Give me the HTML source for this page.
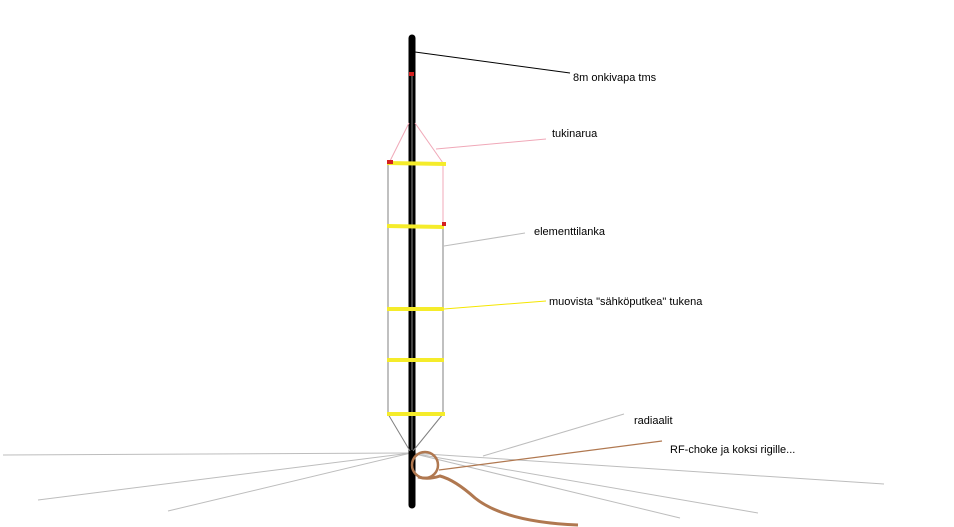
<!DOCTYPE html>
<html><head><meta charset="utf-8"><style>
html,body{margin:0;padding:0;background:#fff;width:954px;height:527px;overflow:hidden}
svg{display:block}
text{font-family:"Liberation Sans",sans-serif;font-size:11px;fill:#000}
</style></head><body>
<svg width="954" height="527" viewBox="0 0 954 527" xmlns="http://www.w3.org/2000/svg">
<!-- radials -->
<g stroke="#bdbdbd" stroke-width="1" fill="none">
<line x1="411" y1="453" x2="3" y2="455"/>
<line x1="411" y1="453" x2="38" y2="500"/>
<line x1="411" y1="453" x2="168" y2="511"/>
<line x1="411" y1="453" x2="884" y2="484"/>
<line x1="411" y1="453" x2="758" y2="513"/>
<line x1="411" y1="453" x2="680" y2="518"/>
<line x1="483" y1="456" x2="624" y2="414"/>
</g>
<!-- mast -->
<line x1="412" y1="38" x2="412" y2="505" stroke="#000" stroke-width="7" stroke-linecap="round"/>
<line x1="412" y1="74" x2="412" y2="450" stroke="#888" stroke-width="1"/>
<!-- pointer lines -->
<line x1="415" y1="52" x2="570" y2="73" stroke="#000" stroke-width="1"/>
<line x1="436" y1="149" x2="546" y2="139" stroke="#f0a8b8" stroke-width="1"/>
<line x1="444" y1="246" x2="525" y2="233" stroke="#bdbdbd" stroke-width="1"/>
<line x1="444" y1="309" x2="546" y2="301" stroke="#f5e600" stroke-width="1"/>
<!-- pink support -->
<g stroke="#f0a8b8" stroke-width="1" fill="none">
<line x1="409" y1="123" x2="389" y2="163"/>
<line x1="415" y1="123" x2="443" y2="163"/>
<line x1="443" y1="163" x2="443" y2="225"/>
</g>
<!-- element wires -->
<g stroke="#808080" stroke-width="1" fill="none">
<line x1="388" y1="163" x2="388" y2="414"/>
<line x1="443" y1="225" x2="443" y2="414"/>
<line x1="388" y1="414" x2="410" y2="451"/>
<line x1="443" y1="414" x2="413" y2="451"/>
</g>
<!-- yellow bars -->
<g stroke="#f5ec2a" stroke-width="4">
<line x1="387" y1="163" x2="446" y2="164"/>
<line x1="387" y1="226" x2="444" y2="227"/>
<line x1="387" y1="309" x2="444" y2="309"/>
<line x1="387" y1="360" x2="444" y2="360"/>
<line x1="387" y1="414" x2="445" y2="414"/>
</g>
<!-- red marks -->
<rect x="409" y="72" width="5" height="4" fill="#d42020"/>
<rect x="387" y="160" width="6" height="4" fill="#d42020"/>
<rect x="442" y="222" width="4" height="4" fill="#d42020"/>
<!-- coax / choke -->
<g stroke="#b07850" fill="none">
<ellipse cx="425" cy="465" rx="13" ry="13" stroke-width="2.5"/>
<line x1="439" y1="470" x2="662" y2="441" stroke-width="1.2"/>
<path d="M418 477 Q428 480 440 476 Q455 480 475 498 Q505 522 578 525" stroke-width="3"/>
</g>
<!-- labels -->
<text x="573" y="81">8m onkivapa tms</text>
<text x="552" y="137">tukinarua</text>
<text x="534" y="235">elementtilanka</text>
<text x="549" y="305">muovista "sähköputkea" tukena</text>
<text x="634" y="424">radiaalit</text>
<text x="670" y="453">RF-choke ja koksi rigille...</text>
</svg>
</body></html>
